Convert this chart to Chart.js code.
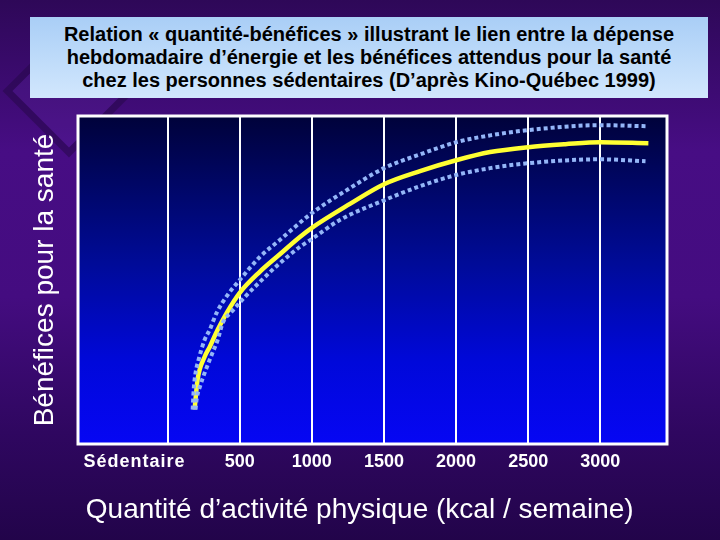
<!DOCTYPE html>
<html><head><meta charset="utf-8">
<script src="https://cdn.jsdelivr.net/npm/chart.js@4.4.0/dist/chart.umd.min.js"></script>
<style>
html,body{margin:0;padding:0;width:720px;height:540px;overflow:hidden;}
body{position:relative;font-family:"Liberation Sans",Arial,sans-serif;
 background:linear-gradient(180deg,#2e0858 0%,#470d84 28%,#440c80 55%,#2f0760 80%,#22044a 100%);}
#deco{position:absolute;left:22px;top:44px;width:80px;height:80px;transform:rotate(45deg);
 border:7px solid rgba(28,0,58,0.5);background:rgba(130,70,210,0.12);}
#wrap{position:absolute;left:0;top:0;width:720px;height:540px;}
#title{position:absolute;left:30px;top:17px;width:678px;height:81px;
 background:linear-gradient(180deg,#a9cef6 0%,#d2e7fd 100%);
 display:flex;align-items:center;justify-content:center;text-align:center;
 font-weight:bold;font-size:20px;line-height:23px;color:#000;z-index:2;}
</style></head><body>
<div id="deco"></div>
<div id="wrap"><canvas id="c" width="720" height="540"></canvas></div>
<div id="title">Relation « quantité-bénéfices » illustrant le lien entre la dépense<br>hebdomadaire d’énergie et les bénéfices attendus pour la santé<br>chez les personnes sédentaires (D’après Kino-Québec 1999)</div>
<script>
// ---- data ----
const xTicks = [0, 500, 1000, 1500, 2000, 2500, 3000];
const tickLabels = ['Sédentaire', '500', '1000', '1500', '2000', '2500', '3000'];
const sedentaireLabelAt = -230;
const xTitle = ' Quantité d’activité physique (kcal / semaine)';
const yTitle = 'Bénéfices pour la santé';

const meanX = [187, 208, 257, 292, 347, 410, 500, 639, 764, 917, 1000, 1264, 1500, 1750, 2000, 2236, 2500, 2757, 3000, 3333];
const meanY = [10.5, 19.6, 26.6, 29.6, 34.8, 40.0, 46.1, 52.5, 57.3, 63.1, 65.9, 73.2, 79.2, 83.2, 86.5, 89.0, 90.5, 91.4, 92.0, 91.7];

const upperX = [174, 181, 194, 215, 257, 292, 340, 417, 500, 639, 778, 1000, 1264, 1500, 1750, 2000, 2236, 2500, 3000, 3313];
const upperY = [10.5, 16.5, 21.7, 25.7, 31.8, 34.8, 40.0, 45.5, 50.0, 57.0, 62.2, 70.4, 78.0, 84.1, 88.3, 92.0, 94.1, 95.7, 97.2, 96.9];

const lowerX = [194, 201, 229, 257, 306, 347, 382, 444, 535, 639, 757, 917, 1000, 1194, 1500, 1750, 2000, 2236, 2500, 3000, 3313];
const lowerY = [10.5, 13.5, 18.1, 21.7, 27.2, 31.7, 36.9, 40.3, 44.8, 49.4, 54.3, 60.1, 62.5, 68.3, 74.3, 78.6, 82.0, 84.1, 85.6, 86.8, 86.2];

const pts = (xs, ys) => xs.map((x, i) => ({x, y: ys[i]}));
const FONT = '"Liberation Sans", Arial, sans-serif';

const plotBg = {
  id: 'plotBg',
  beforeDraw(chart) {
    const {ctx, chartArea: a} = chart;
    const g = ctx.createLinearGradient(0, a.top, 0, a.bottom);
    g.addColorStop(0, '#00023a');
    g.addColorStop(0.45, '#000b98');
    g.addColorStop(0.75, '#0008da');
    g.addColorStop(1, '#0606f4');
    ctx.save();
    ctx.fillStyle = g;
    ctx.fillRect(a.left, a.top, a.right - a.left, a.bottom - a.top);
    ctx.restore();
  },
  afterDraw(chart) {
    const {ctx, chartArea: a} = chart;
    ctx.save();
    ctx.strokeStyle = '#ffffff';
    ctx.lineWidth = 3;
    ctx.strokeRect(a.left, a.top, a.right - a.left, a.bottom - a.top);
    const xs = chart.scales.x;
    ctx.fillStyle = '#ffffff';
    ctx.font = 'bold 18px ' + FONT;
    if ('letterSpacing' in ctx) ctx.letterSpacing = '1px';
    ctx.textAlign = 'center';
    ctx.textBaseline = 'middle';
    ctx.fillText(tickLabels[0], xs.getPixelForValue(sedentaireLabelAt), a.bottom + 7 + 10.8);
    ctx.restore();
  }
};

new Chart(document.getElementById('c'), {
  type: 'line',
  data: {
    datasets: [
      {data: pts(upperX, upperY), borderColor: '#94b6f8', borderWidth: 4, borderDash: [4, 3], pointRadius: 0, cubicInterpolationMode: 'monotone', fill: false},
      {data: pts(lowerX, lowerY), borderColor: '#94b6f8', borderWidth: 4, borderDash: [4, 3], pointRadius: 0, cubicInterpolationMode: 'monotone', fill: false},
      {data: pts(meanX, meanY), borderColor: '#ffff33', borderWidth: 4.5, pointRadius: 0, cubicInterpolationMode: 'monotone', fill: false}
    ]
  },
  options: {
    responsive: false,
    devicePixelRatio: 1,
    animation: false,
    layout: {padding: {top: 116, right: 53, left: 0, bottom: 0}},
    plugins: {legend: {display: false}, tooltip: {enabled: false}},
    scales: {
      x: {
        type: 'linear', min: -621, max: 3462,
        afterBuildTicks: s => { s.ticks = xTicks.map(v => ({value: v})); },
        afterFit: s => { s.height = 96; },
        ticks: {
          autoSkip: false, maxRotation: 0, padding: 7, color: '#ffffff',
          font: {family: FONT, size: 18, weight: 'bold'},
          callback: v => { const i = xTicks.indexOf(v); return i <= 0 ? '' : tickLabels[i]; }
        },
        grid: {color: '#ffffff', lineWidth: 2, drawTicks: false},
        border: {display: false},
        title: {display: true, text: xTitle, color: '#ffffff', align: 'start',
          font: {family: FONT, size: 28}, padding: {top: 0, bottom: 13}}
      },
      y: {
        type: 'linear', min: 0, max: 100,
        afterFit: s => { s.width = 78; },
        ticks: {display: false},
        grid: {display: false},
        border: {display: false},
        title: {display: true, text: yTitle, color: '#ffffff',
          font: {family: FONT, size: 28}, padding: {top: 28, bottom: 0}}
      }
    }
  },
  plugins: [plotBg]
});
</script>
</body></html>
